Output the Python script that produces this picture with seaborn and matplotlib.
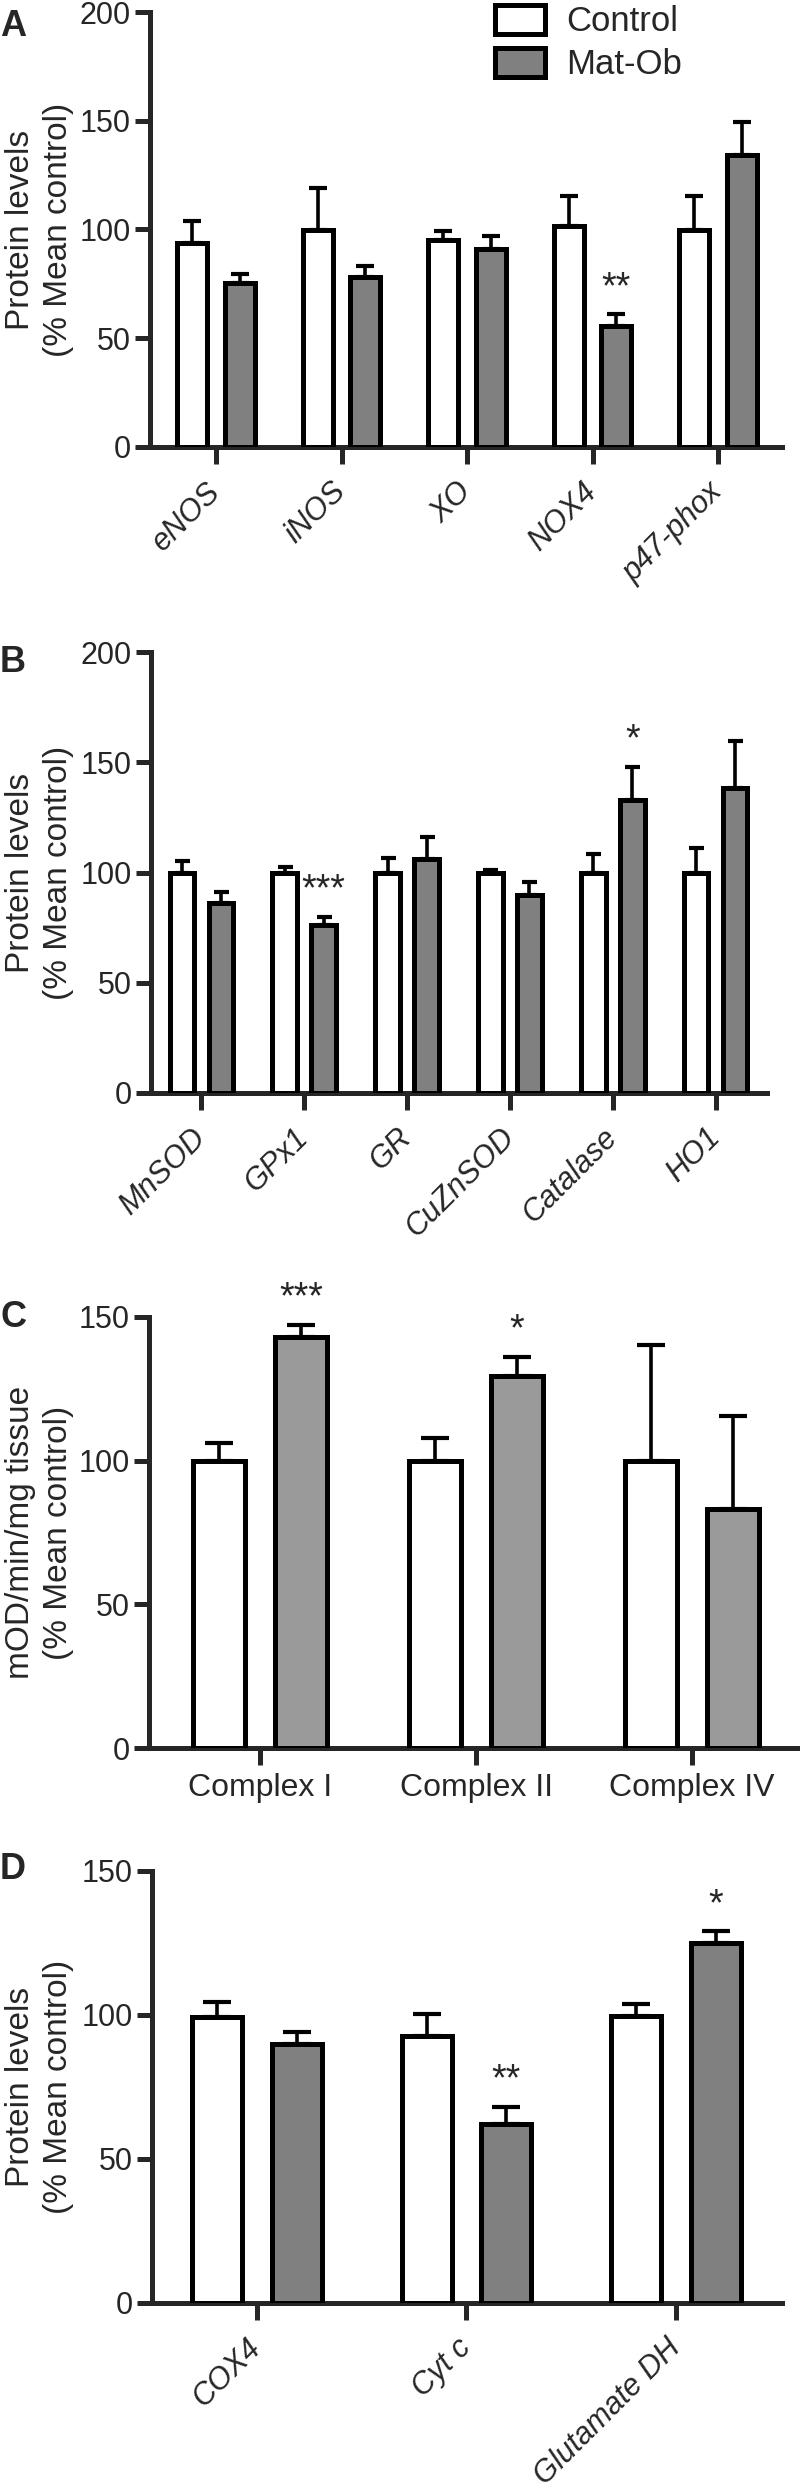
import numpy as np
import pandas as pd
import matplotlib
matplotlib.use('Agg')
import matplotlib.pyplot as plt
import matplotlib.transforms as mtransforms
from matplotlib.patches import Patch
import seaborn as sns

# ---------------- data ----------------
groups = ['Control', 'Mat-Ob']

A_cats = ['eNOS', 'iNOS', 'XO', 'NOX4', 'p47-phox']
A_ctrl = [93.8, 99.6, 95.0, 101.5, 99.9]
A_ctrl_err = [10.1, 19.6, 4.3, 13.7, 15.3]
A_ob = [75.4, 78.2, 91.2, 55.6, 134.1]
A_ob_err = [4.0, 5.0, 5.7, 5.4, 15.3]
A_sig = ['', '', '', '**', '']

B_cats = ['MnSOD', 'GPx1', 'GR', 'CuZnSOD', 'Catalase', 'HO1']
B_ctrl = [100, 100, 100, 100, 100, 100]
B_ctrl_err = [5.3, 2.6, 6.4, 1.2, 8.3, 11.0]
B_ob = [86.3, 76.2, 106.0, 89.8, 133.1, 138.1]
B_ob_err = [5.0, 3.8, 10.2, 5.7, 14.8, 21.6]
B_sig = ['', '***', '', '', '*', '']

C_cats = ['Complex I', 'Complex II', 'Complex IV']
C_ctrl = [100, 100, 100]
C_ctrl_err = [6.0, 8.0, 40.4]
C_ob = [142.9, 129.6, 83.2]
C_ob_err = [4.3, 6.5, 32.2]
C_sig = ['***', '*', '']

D_cats = ['COX4', 'Cyt c', 'Glutamate DH']
D_ctrl = [99.2, 92.8, 99.7]
D_ctrl_err = [5.2, 7.7, 4.0]
D_ob = [89.8, 62.2, 125.1]
D_ob_err = [4.4, 6.0, 4.0]
D_sig = ['', '**', '*']

# ---------------- style ----------------
sns.set_style('ticks')
plt.rcParams['font.family'] = ['Liberation Sans', 'DejaVu Sans']

W, H = 800, 2486
fig = plt.figure(figsize=(W / 100, H / 100), dpi=100)
LW = 3.6
GRAY = '#808080'
GRAY_C = '#9a9a9a'


def add_ax(l, r, t, b):
    return fig.add_axes([l / W, 1 - b / H, (r - l) / W, (b - t) / H])


def panel(ax, cats, ctrl, ctrl_err, ob, ob_err, sig, gray, ymax, yticks, xlim,
          ylabel, rotated, capsize, label_x):
    df = pd.DataFrame({
        'cat': list(cats) * 2,
        'val': list(ctrl) + list(ob),
        'group': [groups[0]] * len(cats) + [groups[1]] * len(cats),
    })
    errs = {(groups[0], c): e for c, e in zip(cats, ctrl_err)}
    errs.update({(groups[1], c): e for c, e in zip(cats, ob_err)})
    sigs = dict(zip(cats, sig))
    sns.barplot(data=df, x='cat', y='val', hue='group', order=cats,
                hue_order=groups, palette=['white', gray], edgecolor='black',
                linewidth=LW, width=0.76, gap=0.37, errorbar=None,
                legend=False, ax=ax, zorder=3)
    for p in list(ax.patches):
        cx = p.get_x() + p.get_width() / 2
        h = p.get_height()
        i = int(round(cx))
        grp = groups[0] if cx < i else groups[1]
        e = errs[(grp, cats[i])]
        ax.errorbar([cx], [h], yerr=[[0], [e]], fmt='none', ecolor='black',
                    elinewidth=2.6, capsize=capsize, capthick=3, zorder=2)
        if grp == groups[1] and sigs[cats[i]]:
            ax.annotate(sigs[cats[i]], (cx, h + e), xytext=(0, 19),
                        textcoords='offset points', ha='center', va='center',
                        fontsize=27, annotation_clip=False)
    ax.set_xlim(*xlim)
    ax.set_ylim(0, ymax)
    ax.set_yticks(yticks)
    ax.set_xlabel('')
    ax.set_ylabel(ylabel, fontsize=24, linespacing=1.3)
    ax.yaxis.set_label_coords(
        label_x / W, 0.5,
        transform=mtransforms.blended_transform_factory(fig.transFigure, ax.transAxes))
    sns.despine(ax=ax)
    for s in ['left', 'bottom']:
        ax.spines[s].set_linewidth(LW)
    ax.tick_params(axis='y', length=11, width=LW, labelsize=22, pad=3)
    ax.set_xticks(range(len(cats)))
    if rotated:
        ax.tick_params(axis='x', length=12, width=LW, pad=17)
        ax.set_xticklabels(cats, rotation=45, ha='right', va='center',
                           rotation_mode='anchor', fontsize=22, style='italic')
    else:
        ax.tick_params(axis='x', length=12, width=LW, pad=6)
        ax.set_xticklabels(cats, fontsize=23)


axA = add_ax(150, 782, 12, 447)
panel(axA, A_cats, A_ctrl, A_ctrl_err, A_ob, A_ob_err, A_sig, GRAY, 200,
      [0, 50, 100, 150, 200], (-0.526, 4.51),
      'Protein levels\n(% Mean control)', True, 6.2, 74)

axB = add_ax(151, 767, 652, 1093)
panel(axB, B_cats, B_ctrl, B_ctrl_err, B_ob, B_ob_err, B_sig, GRAY, 200,
      [0, 50, 100, 150, 200], (-0.49, 5.5),
      'Protein levels\n(% Mean control)', True, 5.4, 74)

axC = add_ax(149, 800, 1317, 1748)
panel(axC, C_cats, C_ctrl, C_ctrl_err, C_ob, C_ob_err, C_sig, GRAY_C, 150,
      [0, 50, 100, 150], (-0.514, 2.5),
      'mOD/min/mg tissue\n(% Mean control)', False, 10.4, 74)

axD = add_ax(152, 782, 1871, 2303)
panel(axD, D_cats, D_ctrl, D_ctrl_err, D_ob, D_ob_err, D_sig, GRAY, 150,
      [0, 50, 100, 150], (-0.5, 2.505),
      'Protein levels\n(% Mean control)', True, 10.4, 74)

# legend
handles = [Patch(facecolor='white', edgecolor='black', linewidth=LW, label='Control'),
           Patch(facecolor=GRAY, edgecolor='black', linewidth=LW, label='Mat-Ob')]
fig.legend(handles=handles, loc='upper left', bbox_to_anchor=(495 / W, 1 - 5 / H),
           frameon=False, fontsize=25, handlelength=1.44, handleheight=0.9,
           handletextpad=0.6, labelspacing=0.28, borderpad=0, borderaxespad=0)

# panel letters
for letter, ytop in [('A', 9), ('B', 645), ('C', 1300), ('D', 1852)]:
    fig.text(0, 1 - ytop / H, letter, fontsize=26, weight='bold', va='top', ha='left')

fig.savefig('out.png', dpi=100)
